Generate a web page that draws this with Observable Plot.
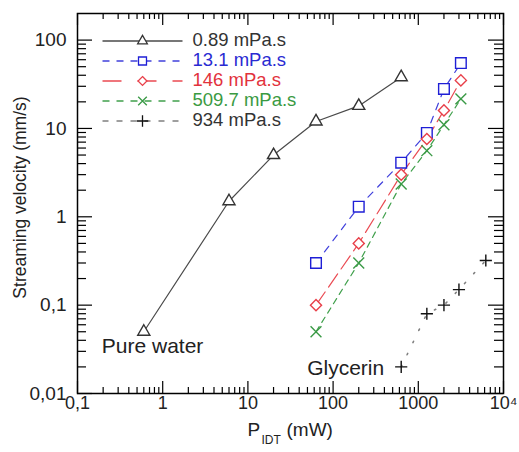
<!DOCTYPE html>
<html>
<head>
<meta charset="utf-8">
<script src="https://cdn.jsdelivr.net/npm/d3@7"></script>
<script src="https://cdn.jsdelivr.net/npm/@observablehq/plot@0.6"></script>
<style>
  html, body { margin: 0; padding: 0; background: #fff; }
  #chart svg { display: block; }
</style>
</head>
<body>
<div id="chart"></div>
<script>
// ---- data ----
const seriesNames = ["0.89 mPa.s", "13.1 mPa.s", "146 mPa.s", "509.7 mPa.s", "934 mPa.s"];
const waterPower = [0.6, 6, 20, 63, 200, 630];
const waterVelocity = [0.05, 1.5, 5, 12, 18, 38];
const mixPower = [63, 200, 630, 1260, 2000, 3160];
const velocity13 = [0.3, 1.3, 4.1, 8.9, 28, 55];
const velocity146 = [0.1, 0.5, 3.0, 7.6, 16, 35];
const velocity509 = [0.05, 0.3, 2.35, 5.6, 11, 21.6];
const glycerinPower = [630, 1260, 2000, 3000, 6200];
const velocity934 = [0.02, 0.08, 0.1, 0.15, 0.32];
const annotationLabels = ["Pure water", "Glycerin"];
const xTicks = [0.1, 1, 10, 100, 1000, 10000];
const xTickLabels = ["0,1", "1", "10", "100", "1000", "10⁴"];
const yTicks = [0.01, 0.1, 1, 10, 100];
const yTickLabels = ["0,01", "0,1", "1", "10", "100"];
const xLabelParts = ["P", "IDT", "(mW)"];
const yLabel = "Streaming velocity (mm/s)";

// ---- styles ----
const lineColors = ["#4a4a4a", "#4040dc", "#ea4a52", "#40a04c", "#808080"];
const markColors = ["#333333", "#1f1fd6", "#e8404a", "#3a9a46", "#111111"];
const textColors = ["#333333", "#2a2ad2", "#e2323c", "#3a9a42", "#333333"];
const symbols = ["triangle", "square", "diamond2", "times", "plus"];
const markerR = [4.5, 6, 5, 5, 4];
const legendR = [3.6, 4.5, 4, 4, 3.8];
const dataDash = [null, "7,7", "16,6", "6,5", "1.5,12"];
const legendDash = [null, "7,7", "19,16", "7,7", "6,8"];
const hollow = [true, true, true, false, false];

const W = 519, H = 452;
const mL = 77, mR = 16, mT = 13, mB = 59;
const fw = W - mL - mR, fh = H - mT - mB;
const font = "'Liberation Sans', Arial, Helvetica, sans-serif";

const rows = (xs, ys) => xs.map((x, i) => ({x, y: ys[i]}));
const seriesData = [
  rows(waterPower, waterVelocity),
  rows(mixPower, velocity13),
  rows(mixPower, velocity146),
  rows(mixPower, velocity509),
  rows(glycerinPower, velocity934)
];

// minor ticks (2..9 within each decade)
const minorIn = (lo, hi) => {
  const out = [];
  for (let d = lo; d < hi; d *= 10) for (let k = 2; k <= 9; k++) out.push(d * k);
  return out;
};
const xMinor = minorIn(0.1, 10000);
const yMinor = minorIn(0.01, 100).filter(v => v < 200);

// legend sample line as a custom symbol
const hline = {draw(ctx) { ctx.moveTo(-40, 0); ctx.lineTo(40, 0); }};

const marks = [];

// ticks (inward)
marks.push(Plot.tickX(xTicks, {x: d => d, insetTop: fh - 12, stroke: "#000", strokeWidth: 1.2}));
marks.push(Plot.tickX(xMinor, {x: d => d, insetTop: fh - 6, stroke: "#000", strokeWidth: 1.2}));
marks.push(Plot.tickX(xTicks, {x: d => d, insetBottom: fh - 12, stroke: "#000", strokeWidth: 1.2}));
marks.push(Plot.tickX(xMinor, {x: d => d, insetBottom: fh - 6, stroke: "#000", strokeWidth: 1.2}));
marks.push(Plot.tickY(yTicks, {y: d => d, insetRight: fw - 15, stroke: "#000", strokeWidth: 1.2}));
marks.push(Plot.tickY(yMinor, {y: d => d, insetRight: fw - 9, stroke: "#000", strokeWidth: 1.2}));
marks.push(Plot.tickY(yTicks, {y: d => d, insetLeft: fw - 15, stroke: "#000", strokeWidth: 1.2}));
marks.push(Plot.tickY(yMinor, {y: d => d, insetLeft: fw - 9, stroke: "#000", strokeWidth: 1.2}));
marks.push(Plot.frame({stroke: "#000", strokeWidth: 1.5}));

// tick labels
marks.push(Plot.text(xTicks, {x: d => d, text: (d, i) => xTickLabels[i], frameAnchor: "bottom",
  lineAnchor: "top", dy: 3, fontSize: 18, fill: "#222"}));
marks.push(Plot.text(yTicks, {y: d => d, text: (d, i) => yTickLabels[i], frameAnchor: "left",
  textAnchor: "end", lineAnchor: "middle", dx: -11, fontSize: 19, fill: "#222"}));

// axis titles
marks.push(Plot.text([xLabelParts[0]], {text: d => d, frameAnchor: "bottom", textAnchor: "start",
  lineAnchor: "bottom", dx: -43, dy: 42, fontSize: 19, fill: "#222"}));
marks.push(Plot.text([xLabelParts[1]], {text: d => d, frameAnchor: "bottom", textAnchor: "start",
  lineAnchor: "bottom", dx: -29, dy: 50, fontSize: 12, fill: "#222"}));
marks.push(Plot.text([xLabelParts[2]], {text: d => d, frameAnchor: "bottom", textAnchor: "start",
  lineAnchor: "bottom", dx: -4, dy: 42, fontSize: 19, fill: "#222"}));
marks.push(Plot.text([yLabel], {text: d => d, frameAnchor: "left", rotate: -90, textAnchor: "middle",
  lineAnchor: "middle", dx: -57, dy: -6, fontSize: 17.5, fill: "#222"}));

// data
seriesData.forEach((data, i) => {
  marks.push(Plot.line(data, {x: "x", y: "y", stroke: lineColors[i], strokeWidth: i === 4 ? 1.6 : 1.2,
    strokeDasharray: dataDash[i]}));
});
seriesData.forEach((data, i) => {
  marks.push(Plot.dot(data, {x: "x", y: "y", symbol: symbols[i], r: markerR[i], stroke: markColors[i],
    strokeWidth: 1.4, fill: hollow[i] ? "white" : "none"}));
});

// annotations
marks.push(Plot.text([seriesData[0][0]], {x: "x", y: "y", text: () => annotationLabels[0],
  textAnchor: "start", lineAnchor: "middle", dx: -42, dy: 15, fontSize: 21, fill: "#222"}));
marks.push(Plot.text([seriesData[4][0]], {x: "x", y: "y", text: () => annotationLabels[1],
  textAnchor: "end", lineAnchor: "middle", dx: -17, dy: 1, fontSize: 21, fill: "#222"}));

// legend
seriesNames.forEach((name, i) => {
  const dy = 27.5 + 20 * i;
  marks.push(Plot.dot([name], {frameAnchor: "top-left", dx: 65, dy, symbol: hline, stroke: lineColors[i],
    fill: "none", strokeWidth: 1.3, strokeDasharray: legendDash[i]}));
  marks.push(Plot.dot([name], {frameAnchor: "top-left", dx: 65, dy, symbol: symbols[i], r: legendR[i],
    stroke: markColors[i], fill: hollow[i] ? "white" : "none", strokeWidth: 1.3}));
  marks.push(Plot.text([name], {frameAnchor: "top-left", dx: 115, dy: dy - 1, text: d => d,
    textAnchor: "start", lineAnchor: "middle", fill: textColors[i], fontSize: 18.5}));
});

const chart = Plot.plot({
  width: W,
  height: H,
  marginLeft: mL,
  marginRight: mR,
  marginTop: mT,
  marginBottom: mB,
  style: {fontFamily: font, background: "#fff"},
  x: {type: "log", domain: [0.1, 10000], axis: null},
  y: {type: "log", domain: [0.01, 200], axis: null},
  marks
});
document.getElementById("chart").append(chart);
</script>
</body>
</html>
